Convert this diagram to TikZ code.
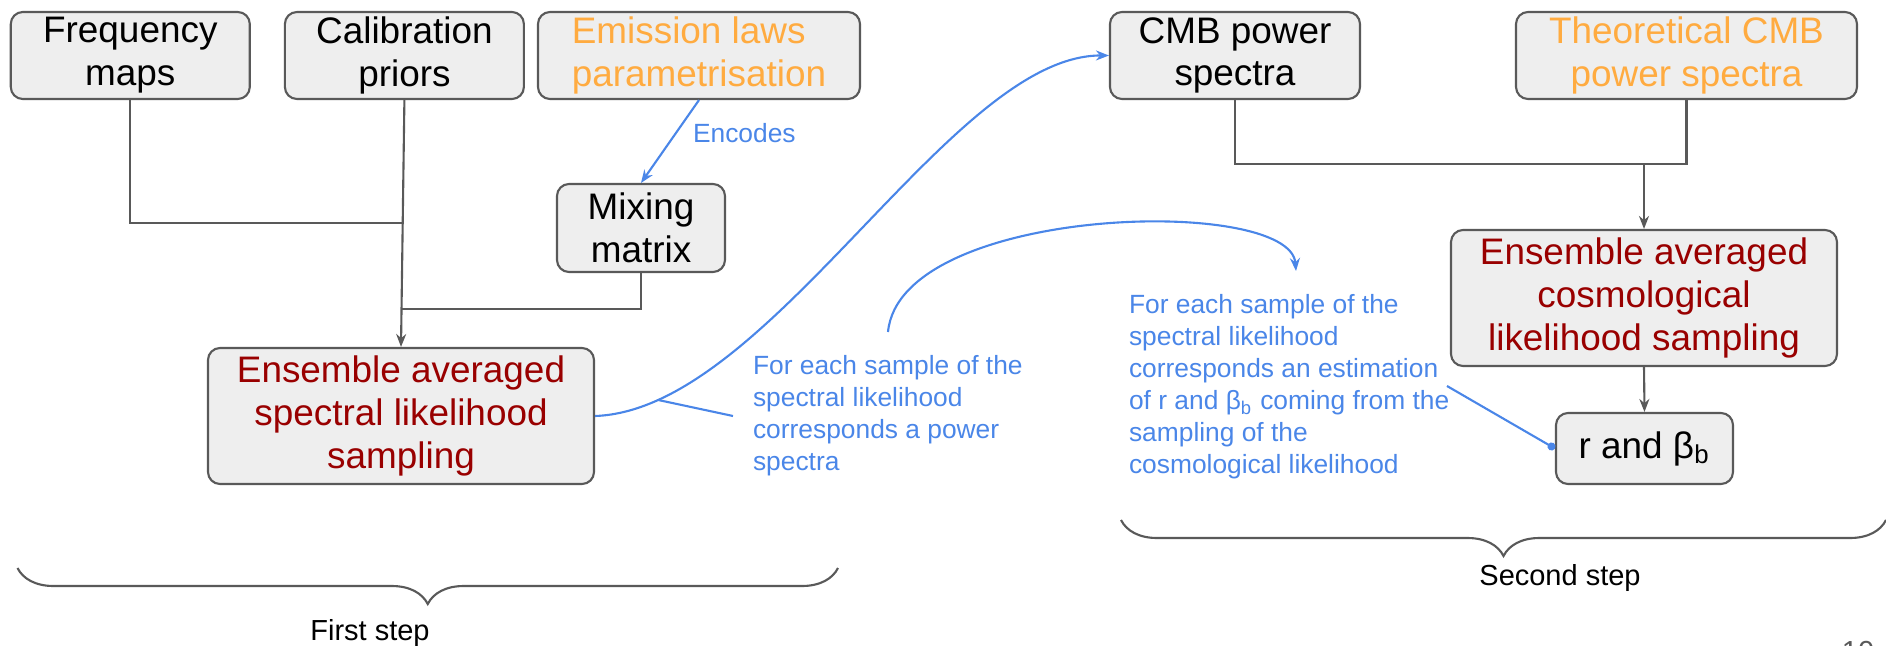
\documentclass[tikz,border=0pt]{standalone}
\usepackage{fontspec}
\setmainfont{Liberation Sans}
\usetikzlibrary{arrows.meta,decorations.pathreplacing}
\definecolor{boxgray}{HTML}{EEEEEE}
\definecolor{linegray}{HTML}{595959}
\definecolor{noteblue}{HTML}{4A86E8}
\definecolor{laworange}{HTML}{FFAB40}
\definecolor{lkred}{HTML}{990000}
\begin{document}
\begin{tikzpicture}[x=0.1mm, y=-0.1mm, line width=0.6pt, >={Stealth[length=1.3mm,width=1mm]},
main box/.style={rectangle, rounded corners=1.2mm, draw=linegray, fill=boxgray, align=center, inner sep=0pt, font=\fontsize{10.5}{12.2}\selectfont},
note/.style={text=noteblue, align=left, inner sep=0pt, font=\fontsize{7.5}{9.1}\selectfont},
step label/.style={inner sep=0pt, font=\fontsize{8.25}{10}\selectfont},
gray line/.style={draw=linegray},
blue line/.style={draw=noteblue}]
\useasboundingbox (0,0) rectangle (1886,646);
\begin{scope}
\node[main box, minimum width=23.9mm, minimum height=8.7mm] (freq) at (130.3,55.5) {Frequency\\maps};
\node[main box, minimum width=23.9mm, minimum height=8.7mm] (calib) at (404.4,55.5) {Calibration\\priors};
\node[main box, minimum width=32.2mm, minimum height=8.7mm, text=laworange, align=left] (emis) at (699,55.5) {Emission laws\\parametrisation};
\node[main box, minimum width=16.8mm, minimum height=8.8mm] (mix) at (641,228) {Mixing\\matrix};
\node[main box, minimum width=38.6mm, minimum height=13.6mm, text=lkred] (spec) at (401,416) {Ensemble averaged\\spectral likelihood\\sampling};
\node[main box, minimum width=25mm, minimum height=8.7mm] (cmb) at (1235,55.5) {CMB power\\spectra};
\node[main box, minimum width=34.1mm, minimum height=8.7mm, text=laworange] (theo) at (1686.5,55.5) {Theoretical CMB\\power spectra};
\node[main box, minimum width=38.6mm, minimum height=13.6mm, text=lkred] (cosmo) at (1644,298) {Ensemble averaged\\cosmological\\likelihood sampling};
\node[main box, minimum width=17.7mm, minimum height=7.1mm] (rb) at (1644.5,448.5) {r and β\textsubscript{b}};
\end{scope}
% first step
\coordinate (j1) at (402,223);
\coordinate (j2) at (402,309);
\draw[gray line] (freq.south) |- (j1);
\draw[gray line] (mix.south) |- (j2);
\draw[gray line,->] (calib.south) -- (spec.north);
\draw[blue line,->] (emis.south) -- (mix.north);
\node[note, anchor=west] (enc) at (692,133) {Encodes};
\draw[blue line,->] (spec.east) .. controls (770,410) and (950,55) .. (cmb.west) coordinate[pos=0.12] (tap);
\coordinate (c1) at (733,416);
\draw[blue line] (tap) -- (c1);
\node[note, anchor=west] (note1) at (752,415.5) {For each sample of the\\spectral likelihood\\corresponds a power\\spectra};
% second step
\coordinate (j3) at (1644,164);
\draw[gray line] (cmb.south) |- (theo.south |- j3) -- (theo.south);
\draw[gray line,->] (j3) -- (cosmo.north);
\draw[gray line,->] (cosmo.south) -- (rb.north);
\coordinate (a1) at (888,332);
\coordinate (a2) at (1296,271);
\draw[blue line,->] (a1) .. controls (900,205) and (1290,195) .. (a2);
\node[note, anchor=west] (note2) at (1128,387) {For each sample of the\\spectral likelihood\\corresponds an estimation\\of r and β\textsubscript{b} coming from the\\sampling of the\\cosmological likelihood};
\coordinate (c2) at (1447,386);
\draw[blue line,-{Circle[length=0.8mm]}] (c2) -- (rb.west);
% braces
\draw[gray line, decorate, decoration={brace, amplitude=3.6mm}] (838,568) -- (17.5,568);
\node[step label] (first) at (370,633) {First step};
\draw[gray line, decorate, decoration={brace, amplitude=3.6mm}] (1886,520) -- (1121,520);
\node[step label] (second) at (1560,578) {Second step};
\node[step label, anchor=base, text=linegray] (pgnum) at (1858,661) {10};
\end{tikzpicture}
\end{document}
